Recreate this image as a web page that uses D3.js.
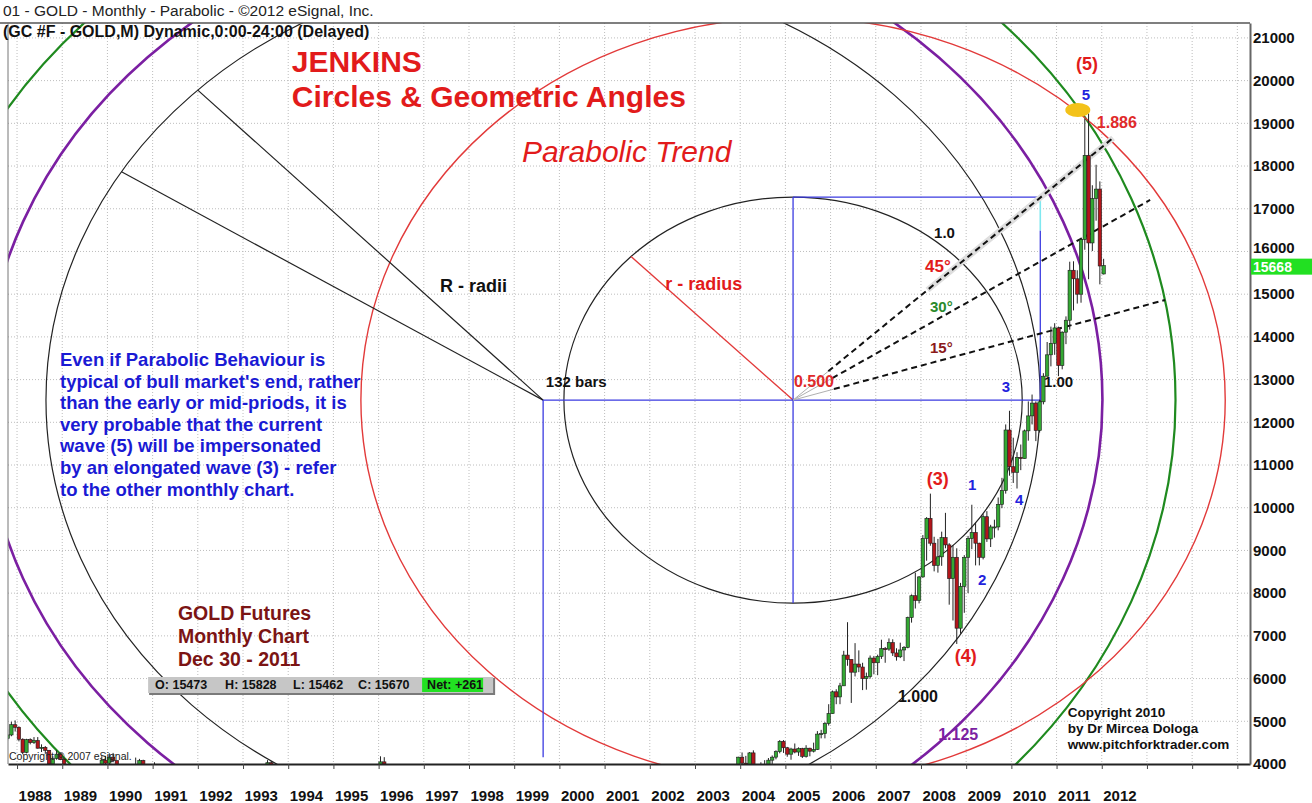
<!DOCTYPE html>
<html>
<head>
<meta charset="utf-8">
<title>GOLD Monthly - Jenkins Circles</title>
<script src="https://cdn.jsdelivr.net/npm/d3@7"></script>
<style>
  body { margin: 0; background: #fff; }
  svg { display: block; font-family: "Liberation Sans", Arial, Helvetica, sans-serif; }
  .grid line { stroke: #bdbdbd; stroke-width: 1; stroke-dasharray: 1 2; }
</style>
</head>
<body>
<svg id="chart" width="1312" height="803"></svg>
<script>
// ====== data (prices in chart units, i.e. $ x 10) ======
const months = [
  "1987-10","1987-11","1987-12",
  "1988-01","1988-02","1988-03","1988-04","1988-05","1988-06","1988-07","1988-08","1988-09","1988-10","1988-11","1988-12",
  "1989-01","1989-11","1989-12","1990-01","1990-02","1990-03","1990-08","1990-09","1990-10","1991-01",
  "1993-07","1993-08","1996-01","1996-02","2003-12",
  "2004-01","2004-02","2004-03","2004-04","2004-05","2004-06","2004-07","2004-08","2004-09","2004-10","2004-11","2004-12",
  "2005-01","2005-02","2005-03","2005-04","2005-05","2005-06","2005-07","2005-08","2005-09","2005-10","2005-11","2005-12",
  "2006-01","2006-02","2006-03","2006-04","2006-05","2006-06","2006-07","2006-08","2006-09","2006-10","2006-11","2006-12",
  "2007-01","2007-02","2007-03","2007-04","2007-05","2007-06","2007-07","2007-08","2007-09","2007-10","2007-11","2007-12",
  "2008-01","2008-02","2008-03","2008-04","2008-05","2008-06","2008-07","2008-08","2008-09","2008-10","2008-11","2008-12",
  "2009-01","2009-02","2009-03","2009-04","2009-05","2009-06","2009-07","2009-08","2009-09","2009-10","2009-11","2009-12",
  "2010-01","2010-02","2010-03","2010-04","2010-05","2010-06","2010-07","2010-08","2010-09","2010-10","2010-11","2010-12",
  "2011-01","2011-02","2011-03","2011-04","2011-05","2011-06","2011-07","2011-08","2011-09","2011-10","2011-11","2011-12",
  "2012-01"
];
const opens = [
  4600,4680,4920,
  4860,4580,4270,4570,4500,4550,4370,4390,4320,4000,4130,4230,
  4110,3920,4090,4020,4160,4080,3720,3870,4080,3860,
  3780,4030,3870,4050,3990,
  4160,4020,3970,4260,3880,3940,3920,3920,4090,4160,4290,4530,
  4380,4230,4350,4280,4360,4180,4370,4300,4340,4700,4710,4950,
  5180,5690,5570,5830,6550,6450,6150,6340,6270,6000,6050,6480,
  6370,6520,6700,6690,6840,6600,6510,6670,6730,7430,7940,7830,
  8380,9280,9750,9170,8650,8850,9300,9130,8340,8840,7180,8160,
  8840,9280,9420,9170,8840,9790,9270,9550,9550,10080,10400,11820,
  10960,10830,11180,11150,11800,12150,12450,11810,12480,13080,13580,13850,
  14210,13330,14110,14390,15560,15360,15000,16280,18250,16200,17240,17460,
  15473
];
const highs = [
  4810,4990,5020,
  4880,4600,4590,4600,4630,4630,4460,4420,4330,4180,4320,4240,
  4140,4180,4190,4250,4260,4080,4150,4120,4100,4040,
  4090,4070,4180,4160,4170,
  4270,4190,4280,4320,3970,4040,4090,4140,4200,4320,4560,4560,
  4400,4380,4480,4390,4380,4440,4380,4500,4770,4800,4980,5400,
  5720,5750,5900,6650,7320,6450,6830,6660,6370,6140,6540,6530,
  6560,6910,6740,6940,6920,6710,6840,6760,7450,7970,8480,8400,
  9360,9780,10330,9320,9270,9440,9880,9170,9120,9050,8240,8890,
  9340,10070,9650,9180,9850,9920,9600,9720,10240,10700,11950,12270,
  11640,11300,11480,11830,12490,12650,12490,12530,13150,13880,14240,14320,
  14240,14130,14480,15760,15770,15560,16320,19110,19230,17550,18030,17640,
  15828
];
const lows = [
  4550,4650,4760,
  4530,4230,4250,4460,4470,4360,4280,4240,3950,3970,4100,4090,
  3900,3880,3990,3980,4040,3690,3690,3820,3780,3650,
  3750,3700,3850,3910,3980,
  3990,3920,3900,3820,3720,3870,3860,3900,3990,4110,4250,4260,
  4170,4100,4250,4190,4140,4150,4180,4270,4330,4600,4600,4900,
  5180,5400,5400,5830,6300,5430,6050,6150,5730,5740,6000,6100,
  6080,6460,6370,6650,6530,6420,6480,6410,6710,7310,7640,7760,
  8360,8760,9110,8510,8480,8640,9050,7730,7360,6810,7050,7540,
  8000,9030,8650,8650,8790,9200,9080,9300,9470,9990,10330,10750,
  10580,10450,10880,11150,11570,11950,11560,11760,12420,13070,13310,13580,
  13080,13240,13830,14170,14620,14780,14800,16040,15350,16010,16720,15230,
  15462
];
const closes = [
  4680,4920,4860,
  4580,4270,4570,4500,4550,4370,4390,4320,4000,4130,4230,4110,
  3940,4090,4020,4160,4080,3700,3870,4080,3800,3660,
  4030,3720,4050,4000,4160,
  4020,3970,4260,3880,3940,3920,3920,4090,4160,4290,4530,4380,
  4230,4350,4280,4360,4180,4370,4300,4340,4700,4710,4950,5180,
  5690,5570,5830,6550,6450,6150,6340,6270,6000,6050,6480,6370,
  6520,6700,6690,6840,6600,6510,6670,6730,7430,7940,7830,8380,
  9280,9750,9170,8650,8850,9300,9130,8340,8840,7180,8160,8840,
  9280,9420,9170,8840,9790,9270,9550,9550,10080,10400,11820,10960,
  10830,11180,11150,11800,12150,12450,11810,12480,13080,13580,13850,14210,
  13330,14110,14390,15560,15360,15000,16280,18250,16200,17240,17460,15660,
  15670
];

const yearLabels = d3.range(1988, 2013);
const yearTicks = d3.range(1988, 2016);
const priceTicks = d3.range(4000, 21001, 1000);
const lastPrice = 15668;
const lastBarFields = ["O: 15473", "H: 15828", "L: 15462", "C: 15670"];
const netChange = "Net: +261";

// Jenkins geometry (time in years, price in chart units)
const centreR = [1999.64, 12520];      // "132 bars" point
const centreSmall = [2005.17, 12520];  // "0.500" point
const radiusR = [11, 10090];           // 132 monthly bars
const radiusSmall = [5.07, 4753];
const ratiosR = [1, 1.125, 1.272];
const ratiosSmall = [1, 1.886];
const radiiAngles = [134, 148];        // the two "R - radii" spokes
const radiusAngle = 135;               // the "r - radius" spoke
const fanNames = ["45°", "30°", "15°"];
const fanEnds = [[2012.25, 18657], [2013.07, 17205], [2013.40, 14864]];
const peakMark = [2011.47, 19313];

const paragraph = [
  "Even if Parabolic Behaviour is",
  "typical of bull market's end, rather",
  "than the early or mid-priods, it is",
  "very probable that the current",
  "wave (5) will be impersonated",
  "by an elongated wave (3) - refer",
  "to the other  monthly chart."
];
const chartInfo = ["GOLD Futures", "Monthly Chart", "Dec 30 - 2011"];
const credits = ["Copyright 2010", "by Dr Mircea Dologa", "www.pitchforktrader.com"];

const notes = [
  {text: "JENKINS", t: 1994.08, p: 20202, s: "title"},
  {text: "Circles & Geometric Angles", t: 1994.08, p: 19383, s: "title"},
  {text: "Parabolic Trend", t: 1999.17, p: 18095, s: "italic"},
  {text: "R - radii", t: 1997.36, p: 15051, s: "blackBig"},
  {text: "r - radius", t: 2002.34, p: 15098, s: "redBig"},
  {text: "132 bars", t: 1999.70, p: 12827, s: "blackMid"},
  {text: "1.0", t: 2008.29, p: 16316, s: "black"},
  {text: "45°", t: 2008.09, p: 15519, s: "red45"},
  {text: "30°", t: 2008.20, p: 14583, s: "green"},
  {text: "15°", t: 2008.20, p: 13623, s: "maroon"},
  {text: "0.500", t: 2005.19, p: 12827, s: "red"},
  {text: "3", t: 2009.79, p: 12710, s: "blue"},
  {text: "1.00", t: 2010.72, p: 12827, s: "black"},
  {text: "(5)", t: 2011.43, p: 20249, s: "wave"},
  {text: "5", t: 2011.56, p: 19547, s: "blue"},
  {text: "1.886", t: 2011.89, p: 18891, s: "red"},
  {text: "(3)", t: 2008.13, p: 10532, s: "wave"},
  {text: "1", t: 2009.04, p: 10415, s: "blue"},
  {text: "2", t: 2009.26, p: 8191, s: "blue"},
  {text: "4", t: 2010.08, p: 10064, s: "blue"},
  {text: "(4)", t: 2008.75, p: 6388, s: "wave"},
  {text: "1.000", t: 2007.49, p: 5452, s: "black16"},
  {text: "1.125", t: 2008.38, p: 4562, s: "purple"}
];

// ====== styles ======
const noteStyle = {
  title:    {fill: "#e21b1b", size: 30, weight: "bold"},
  italic:   {fill: "#e21b1b", size: 30, weight: "normal", italic: true},
  blackBig: {fill: "#111", size: 18, weight: "bold"},
  redBig:   {fill: "#e21b1b", size: 18, weight: "bold"},
  blackMid: {fill: "#111", size: 15, weight: "bold"},
  black:    {fill: "#111", size: 15, weight: "bold"},
  black16:  {fill: "#111", size: 16, weight: "bold"},
  red45:    {fill: "#e21b1b", size: 17, weight: "bold"},
  green:    {fill: "#2a8a2a", size: 15, weight: "bold"},
  maroon:   {fill: "#8b1a1a", size: 15, weight: "bold"},
  red:      {fill: "#e02a2a", size: 16, weight: "bold"},
  blue:     {fill: "#2222dd", size: 15, weight: "bold"},
  wave:     {fill: "#e21b1b", size: 18, weight: "bold"},
  purple:   {fill: "#7b1fa2", size: 16, weight: "bold"}
};
const ringStyleR = [
  {stroke: "#222", width: 1.2},
  {stroke: "#7b1fa2", width: 2.6},
  {stroke: "#1f8a1f", width: 2.2}
];
const ringStyleSmall = [
  {stroke: "#222", width: 1.2},
  {stroke: "#e23a3a", width: 1.4}
];
const BLUE = "#3a3ae0";

// ====== setup ======
const svg = d3.select("#chart");
const x = d3.scaleLinear().domain([1987.8, 2015.28]).range([8, 1250]);
const y = d3.scaleLinear().domain([4000, 21349]).range([764, 23]);
const [xL, xR] = x.range();
const [yB, yT] = y.range();

svg.append("rect").attr("width", 1312).attr("height", 803).attr("fill", "#fff");

svg.append("clipPath").attr("id", "plot")
  .append("rect").attr("x", xL).attr("y", yT).attr("width", xR - xL).attr("height", yB - yT);

// ---------- grid ----------
const grid = svg.append("g").attr("class", "grid");
grid.selectAll("line.v").data(yearTicks).join("line").attr("class", "v")
  .attr("x1", d => x(d)).attr("x2", d => x(d)).attr("y1", yT).attr("y2", yB);
grid.selectAll("line.h").data(priceTicks.slice(1)).join("line").attr("class", "h")
  .attr("x1", xL).attr("x2", xR).attr("y1", d => y(d)).attr("y2", d => y(d));

// ---------- helpers ----------
function ellipseOf(c, r, k){
  return {
    cx: x(c[0]), cy: y(c[1]),
    rx: x(c[0] + r[0] * k) - x(c[0]),
    ry: y(c[1]) - y(c[1] + r[1] * k)
  };
}
function pointOn(c, r, k, deg){
  const a = deg * Math.PI / 180;
  return [c[0] + r[0] * k * Math.cos(a), c[1] + r[1] * k * Math.sin(a)];
}
function seg(g, a, b, stroke, width, dash){
  return g.append("line")
    .attr("x1", x(a[0])).attr("y1", y(a[1]))
    .attr("x2", x(b[0])).attr("y2", y(b[1]))
    .attr("stroke", stroke).attr("stroke-width", width)
    .attr("stroke-dasharray", dash || null);
}
function lerp(a, b, f){ return [a[0] + (b[0] - a[0]) * f, a[1] + (b[1] - a[1]) * f]; }

const geo = svg.append("g").attr("clip-path", "url(#plot)");

// ---------- Jenkins circles ----------
const rings = [
  ...ratiosR.map((k, i) => ({...ellipseOf(centreR, radiusR, k), ...ringStyleR[i]})),
  ...ratiosSmall.map((k, i) => ({...ellipseOf(centreSmall, radiusSmall, k), ...ringStyleSmall[i]}))
];
geo.selectAll("ellipse.ring").data(rings).join("ellipse").attr("class", "ring")
  .attr("cx", d => d.cx).attr("cy", d => d.cy).attr("rx", d => d.rx).attr("ry", d => d.ry)
  .attr("fill", "none").attr("stroke", d => d.stroke).attr("stroke-width", d => d.width);

// R - radii spokes
radiiAngles.forEach(a => seg(geo, centreR, pointOn(centreR, radiusR, 1, a), "#222", 1.2));
// r - radius spoke
seg(geo, centreSmall, pointOn(centreSmall, radiusSmall, 1, radiusAngle), "#e23a3a", 1.4);

// blue construction lines
const pt3 = [centreR[0] + radiusR[0], centreR[1]];
const topP = centreSmall[1] + radiusSmall[1];
seg(geo, centreR, pt3, BLUE, 1.3);
seg(geo, centreR, [centreR[0], 4160], BLUE, 1.3);
seg(geo, [centreSmall[0], topP], [centreSmall[0], centreSmall[1] - radiusSmall[1]], BLUE, 1.3);
seg(geo, [centreSmall[0], topP], [pt3[0], topP], BLUE, 1.3);
seg(geo, pt3, [pt3[0], topP - 780], BLUE, 1.3);
seg(geo, [pt3[0], topP - 780], [pt3[0], topP], "#7fe8f0", 1.6);

// geometric angle fan
fanEnds.forEach((e, i) => {
  const start = lerp(centreSmall, e, 0.11);
  seg(geo, centreSmall, start, "#b0b0b0", 1);
  if (i === 0) seg(geo, lerp(centreSmall, e, 0.42), e, "#dedede", 6);
  seg(geo, start, e, "#111", 2, "6 4");
});

// ---------- candles ----------
const bars = months.map((m, i) => {
  const [yy, mm] = m.split("-").map(Number);
  return {t: yy + (mm - 0.5) / 12, o: opens[i], h: highs[i], l: lows[i], c: closes[i]};
});
const cg = svg.append("g").attr("clip-path", "url(#plot)");
cg.selectAll("line.wick").data(bars).join("line").attr("class", "wick")
  .attr("x1", d => x(d.t)).attr("x2", d => x(d.t))
  .attr("y1", d => y(d.h)).attr("y2", d => y(d.l))
  .attr("stroke", "#222").attr("stroke-width", 1);
cg.selectAll("rect.body").data(bars).join("rect").attr("class", "body")
  .attr("x", d => x(d.t) - 1.7).attr("width", 3.4)
  .attr("y", d => y(Math.max(d.o, d.c)))
  .attr("height", d => Math.max(1, Math.abs(y(d.o) - y(d.c))))
  .attr("fill", d => d.c >= d.o ? "#33a833" : "#b3161b")
  .attr("stroke", "#1a1a1a").attr("stroke-width", 0.6);

// peak marker
svg.append("ellipse")
  .attr("cx", x(peakMark[0])).attr("cy", y(peakMark[1]))
  .attr("rx", 12.5).attr("ry", 7).attr("fill", "#f3c21a");

// ---------- notes ----------
function styledText(g, txt, px, py, st){
  return g.append("text").attr("x", px).attr("y", py).text(txt)
    .attr("fill", st.fill).style("font-size", st.size + "px")
    .style("font-weight", st.weight).style("font-style", st.italic ? "italic" : "normal");
}
const ng = svg.append("g");
notes.forEach(n => styledText(ng, n.text, x(n.t), y(n.p), noteStyle[n.s]));

paragraph.forEach((line, i) =>
  styledText(ng, line, x(1988.95), y(13319) + i * 21.6, {fill: "#1a1ad4", size: 18.5, weight: "bold"}));
chartInfo.forEach((line, i) =>
  styledText(ng, line, x(1991.56), y(7372) + i * 23, {fill: "#7b1414", size: 19.5, weight: "bold"}));
credits.forEach((line, i) =>
  styledText(ng, line, x(2011.25), y(5100) + i * 16, {fill: "#111", size: 13.5, weight: "bold"}));
styledText(ng, "Copyright © 2007 eSignal.", x(1987.8) + 1, y(4094), {fill: "#222", size: 10.5, weight: "normal"});

// OHLC box
const bx = x(1990.90), by = y(6037);
const box = svg.append("g").attr("transform", `translate(${bx},${by})`);
box.append("rect").attr("x", 1).attr("y", 1).attr("width", 346).attr("height", 17).attr("fill", "#7a7a7a");
box.append("rect").attr("width", 345).attr("height", 16).attr("fill", "#c6c6c6");
box.append("rect").attr("x", 274).attr("y", 1).attr("width", 61).attr("height", 14).attr("fill", "#22e022");
[7, 77, 145, 210].forEach((dx, i) =>
  styledText(box, lastBarFields[i], dx, 12.5, {fill: "#111", size: 12.5, weight: "bold"}));
styledText(box, netChange, 279, 12.5, {fill: "#111", size: 12.5, weight: "bold"});

// ---------- axes ----------
const xa = svg.append("g").attr("transform", `translate(0,${yB})`)
  .call(d3.axisBottom(x).tickValues(yearTicks).tickSize(5).tickSizeOuter(0)
    .tickFormat(d => yearLabels.includes(d) ? String(d) : ""));
xa.select(".domain").attr("stroke", "#222").attr("stroke-width", 2);
xa.selectAll(".tick line").attr("stroke", "#444");
xa.selectAll("text").attr("text-anchor", "start").attr("x", 1).attr("y", 37).attr("dy", null)
  .attr("fill", "#111").style("font-size", "15px").style("font-weight", "bold")
  .style("font-family", "'Liberation Sans', Arial, sans-serif");

const ya = svg.append("g").attr("transform", `translate(${xR},0)`)
  .call(d3.axisRight(y).tickValues(priceTicks).tickSize(0).tickSizeOuter(0).tickFormat(d3.format("d")));
ya.select(".domain").attr("stroke", "#666").attr("stroke-width", 2);
ya.selectAll("text").attr("x", 3).attr("fill", "#111")
  .style("font-size", "15px").style("font-weight", "bold")
  .style("font-family", "'Liberation Sans', Arial, sans-serif");
ya.selectAll(".tick").filter(d => d === 16000).select("text").attr("dy", "0.1em");

// current price flag
svg.append("rect").attr("x", xR + 1).attr("y", y(lastPrice) - 7).attr("width", 1312 - xR).attr("height", 16)
  .attr("fill", "#22e022");
svg.append("text").attr("x", xR + 3).attr("y", y(lastPrice) + 6).text(lastPrice)
  .attr("fill", "#fff").style("font-size", "14px").style("font-weight", "bold");

// frame
svg.append("line").attr("x1", 0).attr("x2", xR).attr("y1", yT).attr("y2", yT).attr("stroke", "#555").attr("stroke-width", 1.5);
svg.append("line").attr("x1", xL).attr("x2", xL).attr("y1", yT).attr("y2", yB).attr("stroke", "#777").attr("stroke-width", 1);

// header
styledText(svg, "01 - GOLD -  Monthly - Parabolic - ©2012 eSignal, Inc.", 3, 16, {fill: "#222", size: 15.5, weight: "normal"});
styledText(svg, "(GC #F - GOLD,M) Dynamic,0:00-24:00 (Delayed)", 3, 37, {fill: "#111", size: 16, weight: "bold"});
</script>
</body>
</html>
